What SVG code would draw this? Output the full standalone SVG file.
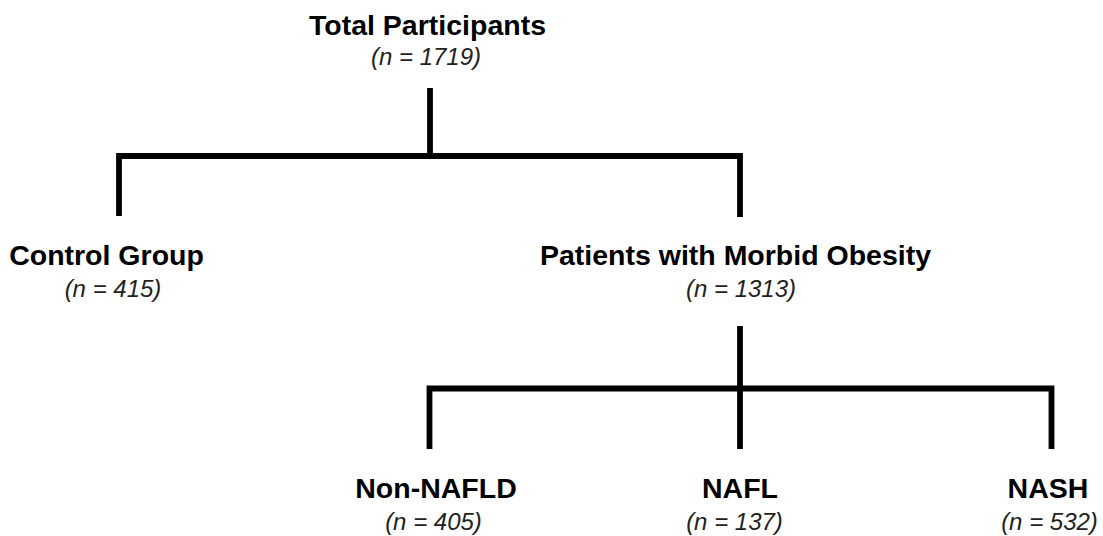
<svg xmlns="http://www.w3.org/2000/svg" width="1103" height="536" viewBox="0 0 1103 536">
<style>
.t{font-family:"Liberation Sans",Arial,sans-serif;font-weight:bold;font-size:28.5px;fill:#000;text-anchor:middle}
.n{font-family:"Liberation Sans",Arial,sans-serif;font-style:italic;font-size:24px;fill:#222;text-anchor:middle}
.c{fill:none;stroke:#000;stroke-width:5.8;stroke-linejoin:miter;stroke-linecap:butt}
</style>
<rect width="1103" height="536" fill="#fff"/>
<g id="connectors">
<path class="c" d="M430,88 V156"/>
<path class="c" d="M119,216 V156 H740 V217"/>
<path class="c" d="M740,326 V449"/>
<path class="c" d="M429.5,449 V388.5 H1051.5 V449"/>
</g>
<g id="total">
<text class="t" x="427.5" y="35">Total Participants</text>
<text class="n" x="426" y="65">(n = 1719)</text>
</g>
<g id="control">
<text class="t" x="106.5" y="265">Control Group</text>
<text class="n" x="113" y="297">(n = 415)</text>
</g>
<g id="obesity">
<text class="t" x="735.5" y="265">Patients with Morbid Obesity</text>
<text class="n" x="741" y="297">(n = 1313)</text>
</g>
<g id="nonnafld">
<text class="t" x="436" y="498">Non-NAFLD</text>
<text class="n" x="433.5" y="530">(n = 405)</text>
</g>
<g id="nafl">
<text class="t" x="740" y="498">NAFL</text>
<text class="n" x="734.5" y="530">(n = 137)</text>
</g>
<g id="nash">
<text class="t" x="1048" y="498">NASH</text>
<text class="n" x="1049.5" y="530">(n = 532)</text>
</g>
</svg>
